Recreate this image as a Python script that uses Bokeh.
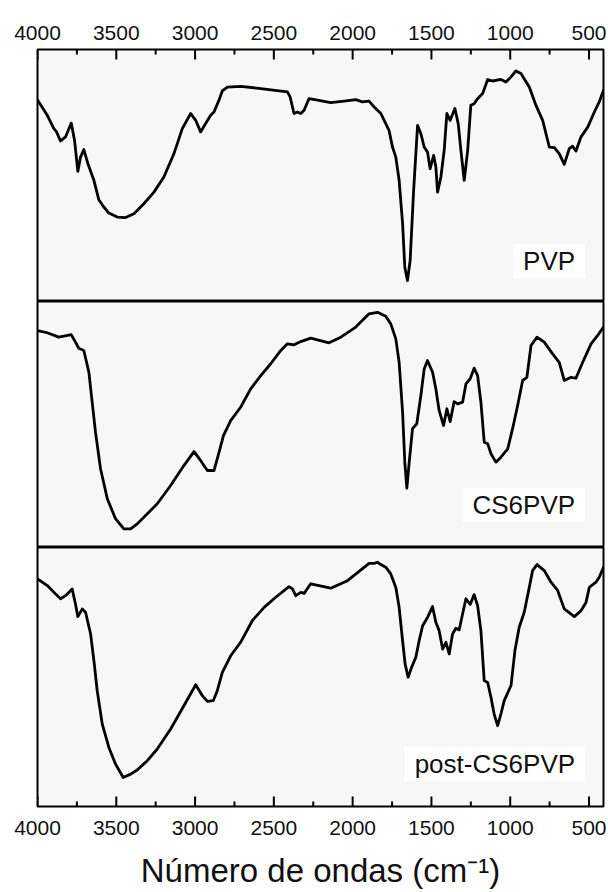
from bokeh.plotting import figure
from bokeh.models import Range1d, LinearAxis, FixedTicker, Label
from bokeh.layouts import column
from bokeh.embed import file_html
from bokeh.resources import INLINE

# ---- data (wavenumber cm^-1, transmittance in % of panel height) ----
pvp_wn = [4000, 3938, 3896, 3879, 3854, 3822, 3786, 3765, 3744, 3727, 3706, 3680, 3642, 3611, 3579, 3547, 3494, 3441,
          3388, 3325, 3261, 3198, 3134, 3081, 3028, 2996, 2965, 2933, 2901, 2880, 2848, 2827, 2795, 2711, 2583, 2414,
          2397, 2372, 2350, 2329, 2308, 2277, 2223, 2139, 2054, 1980, 1938, 1896, 1864, 1821, 1790, 1769, 1747, 1726,
          1705, 1683, 1669, 1652, 1635, 1613, 1588, 1567, 1546, 1525, 1508, 1486, 1472, 1461, 1440, 1419, 1402, 1381,
          1351, 1330, 1313, 1292, 1270, 1250, 1229, 1207, 1175, 1143, 1112, 1059, 1027, 995, 964, 932, 879, 837, 794,
          752, 720, 689, 657, 625, 604, 583, 551, 508, 466, 435, 408]
pvp_t = [80.0, 73.9, 68.6, 67.3, 63.7, 65.3, 70.8, 64.0, 51.6, 57.3, 60.3, 54.7, 48.1, 40.4, 37.5, 35.1, 33.5, 33.3,
         34.8, 38.8, 43.4, 49.4, 58.7, 68.6, 74.6, 71.9, 67.3, 70.6, 73.9, 75.2, 79.9, 83.6, 85.1, 85.4, 84.5, 83.2,
         81.2, 74.6, 75.2, 74.6, 75.9, 80.5, 79.9, 78.9, 79.5, 80.1, 79.2, 79.5, 77.2, 74.6, 70.6, 67.9, 61.3, 57.3,
         48.1, 30.9, 13.6, 8.3, 16.3, 44.1, 69.9, 66.6, 61.3, 59.3, 52.7, 58.0, 53.4, 43.4, 49.4, 60.0, 74.6, 71.9,
         76.6, 70.6, 60.0, 48.1, 60.0, 77.9, 78.5, 80.5, 82.5, 88.1, 87.5, 88.1, 87.1, 89.1, 91.5, 90.5, 85.1, 77.9, 71.9,
         61.3, 61.1, 58.7, 54.4, 60.7, 61.6, 59.7, 65.3, 69.2, 75.2, 79.2, 83.8]

cs6_wn = [4000, 3938, 3865, 3833, 3786, 3759, 3738, 3706, 3674, 3653, 3632, 3600, 3557, 3505, 3452, 3409, 3367, 3314,
          3240, 3155, 3071, 3007, 2965, 2922, 2880, 2848, 2820, 2774, 2711, 2647, 2583, 2520, 2456, 2414, 2372, 2329,
          2266, 2150, 2075, 1980, 1896, 1842, 1790, 1758, 1726, 1705, 1683, 1669, 1656, 1641, 1620, 1593, 1567, 1546,
          1525, 1493, 1472, 1451, 1423, 1402, 1381, 1356, 1334, 1302, 1281, 1254, 1229, 1207, 1186, 1165, 1143, 1122,
          1091, 1059, 1016, 985, 953, 921, 894, 868, 830, 784, 731, 689, 657, 614, 583, 540, 487, 445, 408]
cs6_t = [88.2, 87.3, 85.5, 85.9, 86.5, 83.5, 81.0, 80.1, 71.3, 59.1, 46.9, 32.0, 19.8, 11.7, 7.6, 7.6, 9.6, 13.0,
         17.8, 25.2, 33.3, 39.0, 35.4, 31.3, 31.3, 38.7, 45.5, 51.6, 57.0, 64.5, 69.9, 74.7, 80.1, 82.8, 82.4, 83.7,
         85.1, 83.2, 85.5, 89.6, 95.0, 95.6, 94.0, 90.9, 84.8, 75.3, 55.0, 34.7, 24.1, 34.7, 48.3, 50.3, 61.8, 72.6,
         76.0, 71.3, 64.5, 55.7, 49.6, 56.4, 51.2, 59.3, 58.4, 59.1, 66.5, 68.6, 72.9, 69.9, 59.1, 42.8, 42.2, 38.1,
         34.7, 36.7, 40.1, 48.3, 57.7, 67.9, 69.2, 82.1, 85.5, 83.5, 78.7, 75.3, 67.9, 69.2, 68.8, 75.3, 82.8, 86.2, 89.6]

post_wn = [4000, 3938, 3886, 3854, 3822, 3780, 3759, 3744, 3716, 3695, 3663, 3642, 3621, 3589, 3547, 3505, 3456, 3409,
           3367, 3303, 3240, 3155, 3071, 2996, 2954, 2922, 2884, 2859, 2827, 2774, 2711, 2636, 2562, 2488, 2404, 2382,
           2361, 2329, 2308, 2266, 2139, 2033, 1959, 1896, 1864, 1842, 1821, 1790, 1758, 1726, 1705, 1683, 1667, 1648,
           1626, 1599, 1578, 1556, 1525, 1493, 1472, 1451, 1429, 1408, 1387, 1366, 1345, 1324, 1302, 1281, 1254, 1229,
           1207, 1186, 1165, 1143, 1122, 1102, 1080, 1059, 1038, 995, 970, 943, 911, 879, 858, 830, 784, 741, 699, 657,
           593, 551, 519, 498, 456, 435, 408]
post_t = [87.9, 85.3, 82.1, 80.2, 81.4, 84.0, 78.2, 73.3, 76.3, 75.0, 66.6, 56.3, 44.7, 31.8, 22.8, 16.4, 11.2, 12.5,
          14.1, 17.7, 22.2, 29.9, 38.9, 47.0, 42.8, 40.6, 40.9, 44.7, 51.8, 58.2, 63.4, 71.8, 76.9, 80.8, 84.9, 84.0,
          81.4, 82.7, 82.3, 86.0, 84.3, 87.2, 90.8, 93.9, 93.9, 94.3, 93.4, 92.4, 89.8, 84.6, 76.9, 64.0, 55.0, 49.9,
          53.7, 57.6, 64.0, 69.8, 73.0, 77.2, 71.1, 67.9, 60.8, 63.4, 58.9, 66.6, 68.8, 68.2, 74.4, 80.2, 78.0, 81.8,
          77.6, 67.9, 48.6, 47.9, 42.1, 35.7, 31.2, 35.7, 40.9, 46.7, 60.2, 69.2, 75.0, 84.6, 91.1, 93.4, 91.1, 86.6,
          83.4, 76.3, 73.3, 75.6, 78.8, 84.6, 86.6, 88.5, 92.4]

sample_names = ["PVP", "CS6PVP", "post-CS6PVP"]
label_heights = [16.1, 17.4, 16.4]
major_ticks = [4000, 3500, 3000, 2500, 2000, 1500, 1000, 500]
minor_ticks = [3750, 3250, 2750, 2250, 1750, 1250, 750]
x_title = "Número de ondas (cm⁻¹)"

FONT = "Liberation Sans"
x_range = Range1d(4000, 408)


def make_axis(show_title=False):
    ax = LinearAxis(ticker=FixedTicker(ticks=major_ticks))
    ax.major_tick_line_color = None
    ax.minor_tick_line_color = None
    ax.major_tick_out = 0
    ax.major_tick_in = 0
    ax.axis_line_color = None
    ax.major_label_text_font = FONT
    ax.major_label_text_font_size = "21px"
    ax.major_label_text_color = "#111111"
    if show_title:
        ax.axis_label = x_title
        ax.axis_label_text_font = FONT
        ax.axis_label_text_font_size = "33px"
        ax.axis_label_text_font_style = "normal"
        ax.axis_label_text_color = "#111111"
        ax.axis_label_standoff = 14
        ax.major_label_standoff = 14
    else:
        ax.major_label_standoff = 10
    return ax


def add_ticks(p, frame_h, at_top):
    # inward ticks: 10 px major, 5 px minor, converted to panel units
    maj = 10.0 / frame_h * 100.0
    mnr = 5.0 / frame_h * 100.0
    if at_top:
        p.segment(major_ticks, [100] * len(major_ticks), major_ticks, [100 - maj] * len(major_ticks),
                  line_color="black", line_width=2)
        p.segment(minor_ticks, [100] * len(minor_ticks), minor_ticks, [100 - mnr] * len(minor_ticks),
                  line_color="black", line_width=2)
    else:
        p.segment(major_ticks, [0] * len(major_ticks), major_ticks, [maj] * len(major_ticks),
                  line_color="black", line_width=2)
        p.segment(minor_ticks, [0] * len(minor_ticks), minor_ticks, [mnr] * len(minor_ticks),
                  line_color="black", line_width=2)


def make_panel(wn, t, name, ly, frame_h, top=0, bottom=0):
    p = figure(frame_width=566, frame_height=frame_h, x_range=x_range, y_range=Range1d(0, 100),
               x_axis_location=None, y_axis_location=None, toolbar_location=None,
               output_backend="svg", min_border_left=37, min_border_right=5,
               min_border_top=top, min_border_bottom=bottom)
    p.grid.visible = False
    p.background_fill_color = "#f7f7f7"
    p.border_fill_color = "white"
    p.outline_line_color = "black"
    p.outline_line_width = 2
    p.outline_line_alpha = 1.0
    p.line(wn, t, line_color="black", line_width=2.8, line_join="round", line_cap="round")
    lab = Label(x=525, y=ly, text=name, text_align="right", text_baseline="middle",
                text_font=FONT, text_font_size="26px", text_color="#111111",
                background_fill_color="white", background_fill_alpha=1.0,
                padding=dict(left=10, right=10, top=2, bottom=2))
    p.add_layout(lab)
    return p


p1 = make_panel(pvp_wn, pvp_t, sample_names[0], label_heights[0], 252, top=49)
p1.add_layout(make_axis(False), "above")
add_ticks(p1, 252, True)
p2 = make_panel(cs6_wn, cs6_t, sample_names[1], label_heights[1], 246)
p3 = make_panel(post_wn, post_t, sample_names[2], label_heights[2], 259, bottom=86)
p3.add_layout(make_axis(True), "below")
add_ticks(p3, 259, False)

layout = column(p1, p2, p3, spacing=0)
open("out.html", "w").write(file_html(layout, INLINE))
